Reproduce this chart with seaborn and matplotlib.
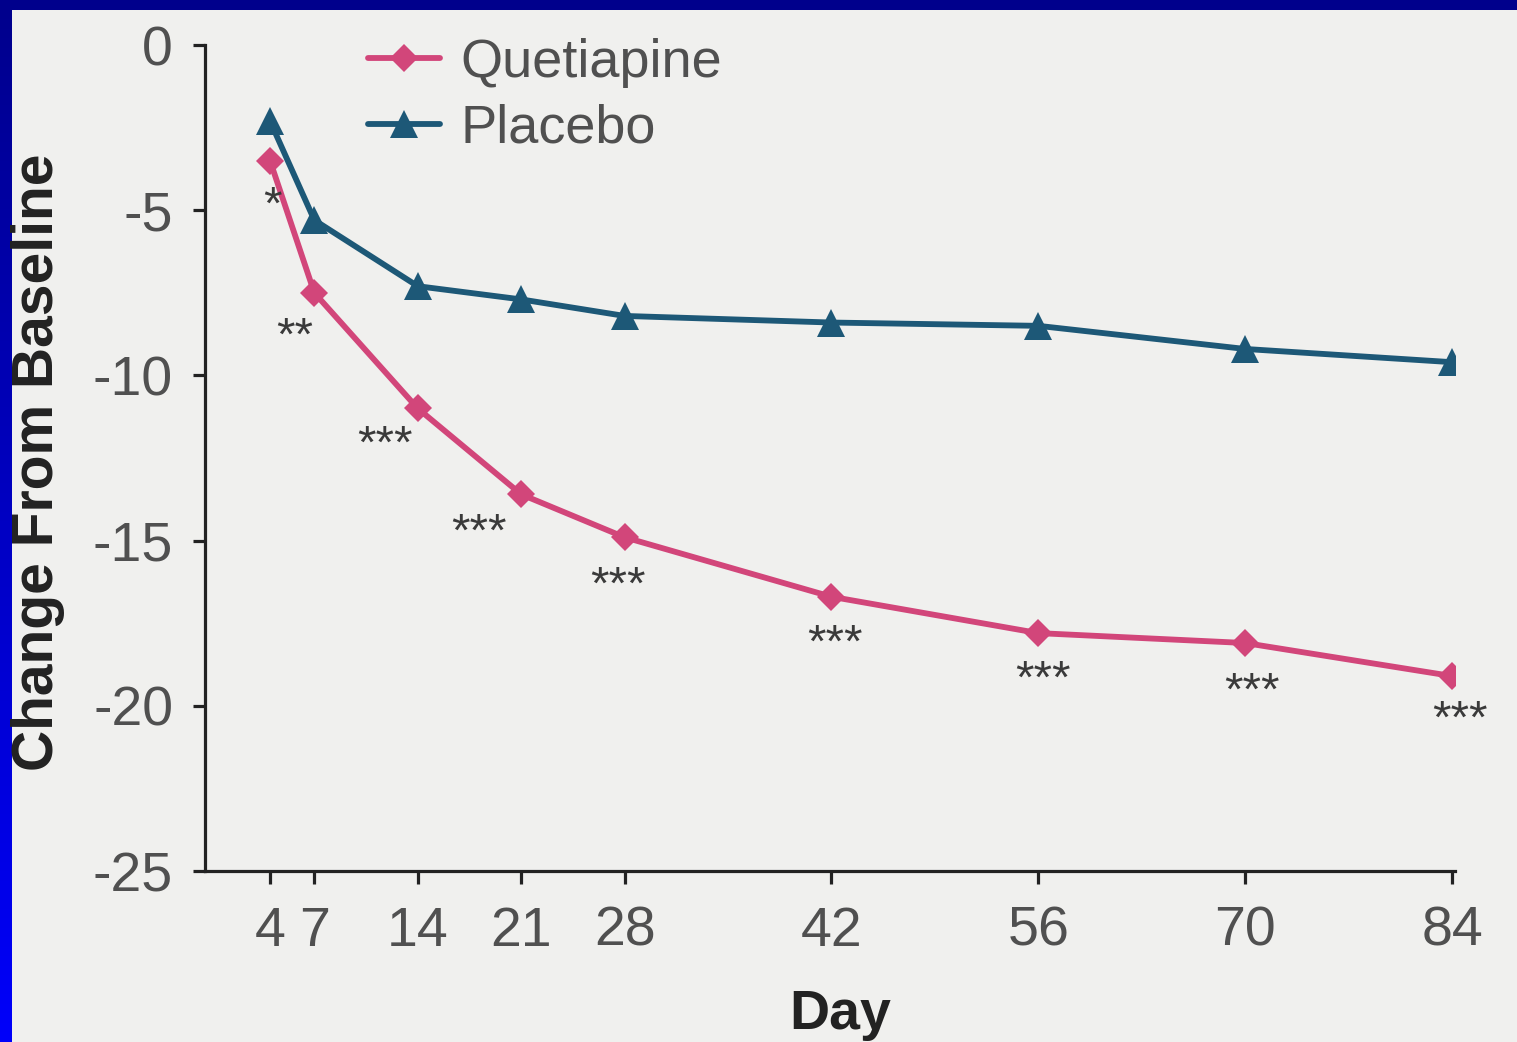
import numpy as np
import pandas as pd
import matplotlib
matplotlib.use("Agg")
import matplotlib.pyplot as plt
import seaborn as sns

# ---- data ----
days = [4, 7, 14, 21, 28, 42, 56, 70, 84]
quetiapine = [-3.5, -7.5, -11.0, -13.6, -14.9, -16.7, -17.8, -18.1, -19.1]
placebo = [-2.3, -5.3, -7.3, -7.7, -8.2, -8.4, -8.5, -9.2, -9.6]
sig_labels = ["*", "**", "***", "***", "***", "***", "***", "***", "***"]
y_ticks = [0, -5, -10, -15, -20, -25]
series_names = ["Quetiapine", "Placebo"]

# label offsets (points) relative to quetiapine points
sig_dx = [1.4, -14.4, -23.8, -30.2, -5, 2.2, 3.6, 5, 5.8]
sig_dy = [-33.5, -32, -27, -28.4, -35.6, -34.2, -34.2, -35.6, -32]

sns.set_theme(style="ticks")
plt.rcParams["font.family"] = ["Liberation Sans", "DejaVu Sans"]

W, H = 1517, 1042
bg = "#f0f0ee"
fig = plt.figure(figsize=(W / 100, H / 100), dpi=100, facecolor=bg)

# slide border (top navy strip, left gradient strip)
top = np.zeros((10, W, 3))
top[:] = np.array([0, 0, 140]) / 255
fig.figimage(top, xo=0, yo=H - 10, origin="upper", zorder=0)
grad = np.linspace(0, 1, H)[:, None]
c_top = np.array([0, 0, 140]) / 255
c_bot = np.array([0, 0, 250]) / 255
left = (c_top[None, :] * (1 - grad) + c_bot[None, :] * grad)[:, None, :].repeat(12, axis=1)
fig.figimage(left, xo=0, yo=0, origin="upper", zorder=0)

ax = fig.add_axes([205 / W, (H - 871) / H, 1250 / W, 826 / H])
ax.set_facecolor(bg)

pink = "#d2467a"
teal = "#1d5877"

df = pd.DataFrame({
    "Day": days * 2,
    "Change": quetiapine + placebo,
    "Treatment": [series_names[0]] * len(days) + [series_names[1]] * len(days),
})

sns.lineplot(data=df[df.Treatment == "Quetiapine"], x="Day", y="Change", ax=ax,
             color=pink, linewidth=4.2, marker="D", markersize=14,
             markeredgecolor=pink, markeredgewidth=0, label="Quetiapine")
sns.lineplot(data=df[df.Treatment == "Placebo"], x="Day", y="Change", ax=ax,
             color=teal, linewidth=4.2, marker="^", markersize=20,
             markeredgecolor=teal, markeredgewidth=0, label="Placebo")

for d, v, s, dx, dy in zip(days, quetiapine, sig_labels, sig_dx, sig_dy):
    ax.annotate(s, (d, v), xytext=(dx, dy), textcoords="offset points",
                ha="center", va="center", fontsize=34, color="#3a3a3a")

ax.set_xlim(-0.4, 84.2)
ax.set_ylim(-25, 0)
ax.set_xticks(days)
ax.set_xticklabels([str(d) for d in days])
ax.set_yticks(y_ticks)
ax.set_yticklabels([str(t) for t in y_ticks])

sns.despine(ax=ax)
for sp in ["left", "bottom"]:
    ax.spines[sp].set_linewidth(2.3)
    ax.spines[sp].set_color("#222222")
ax.tick_params(axis="both", length=9, width=2.3, color="#222222",
               labelsize=40, labelcolor="#505050")
ax.tick_params(axis="y", pad=14)
ax.tick_params(axis="x", pad=16)
ax.set_xlabel("")
ax.set_ylabel("")

fig.text(38 / W, (H - 462) / H, "Change From Baseline", rotation=90,
         ha="center", va="center", fontsize=41, fontweight="bold", color="#222222")
fig.text(840 / W, (H - 1029) / H, "Day", ha="center", va="baseline",
         fontsize=40, fontweight="bold", color="#222222")

ax.legend(loc="upper left", bbox_to_anchor=(368 / W, (H - 38) / H),
          bbox_transform=fig.transFigure, frameon=False, borderpad=0,
          borderaxespad=0, fontsize=39, labelcolor="#505050",
          handlelength=1.33, handletextpad=0.37, labelspacing=0.29)

fig.savefig("out.png", dpi=100, facecolor=bg)
